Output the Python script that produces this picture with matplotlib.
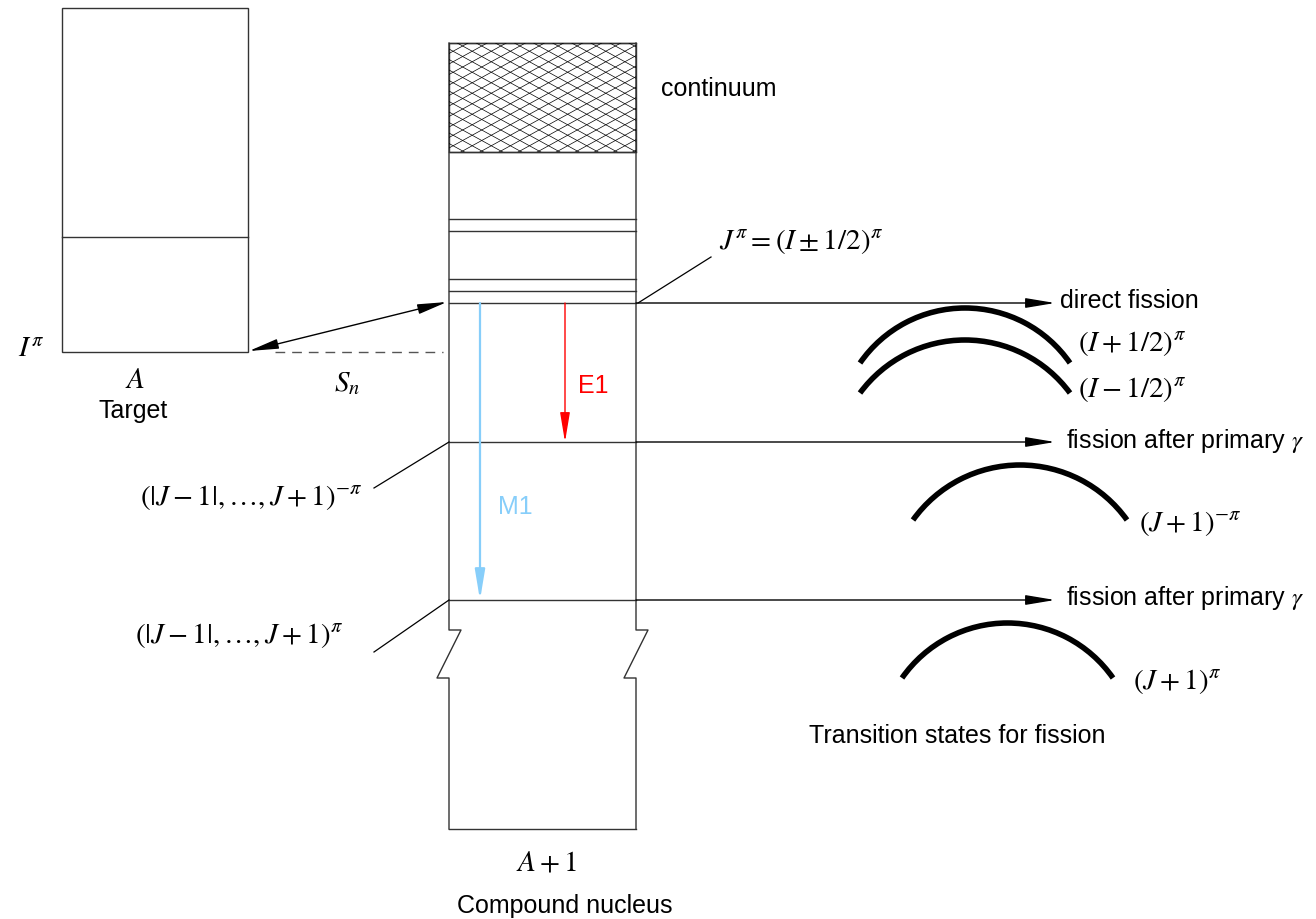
import numpy as np
import matplotlib
matplotlib.use('Agg')
from matplotlib import pyplot as plt
from matplotlib.patches import Rectangle, Arc

plt.rcParams['font.family'] = ['Liberation Sans', 'DejaVu Sans']
plt.rcParams['mathtext.fontset'] = 'stix'

# target nucleus box (pixel units, y grows downwards)
target_x = [62, 248]
target_top, target_bottom = 8, 352
target_level = 237

# compound nucleus box
cn_x = [449, 636]
cn_top, cn_bottom = 43, 829
continuum_bottom = 152
cn_lines = [219, 231, 279, 291]
capture_level = 303          # J^pi = (I +- 1/2)^pi
e1_level = 442
m1_level = 600
break_top, break_bottom = 630, 678
fission_arrow_end = 1055

# transitions
e1_x = 565
m1_x = 480

# transition state barriers: left x, right x, foot y, top y
barrier_left = [860, 860, 913, 902]
barrier_right = [1070, 1070, 1127, 1113]
barrier_foot = [363, 393, 520, 678]
barrier_top = [308, 340, 465, 623]

fig = plt.figure(figsize=(13.16, 9.19), dpi=100)
ax = fig.add_axes([0, 0, 1, 1])
ax.set_xlim(0, 1316)
ax.set_ylim(919, 0)
ax.axis('off')

lc = '#333333'
lw = 1.0

# target
ax.add_patch(Rectangle((target_x[0], target_top), target_x[1] - target_x[0],
                       target_bottom - target_top, fill=False, ec=lc, lw=lw))
ax.plot(target_x, [target_level, target_level], color=lc, lw=lw)

# compound nucleus outline with break
x0, x1 = cn_x
ax.plot([x0, x1], [cn_top, cn_top], color=lc, lw=lw)
ax.plot([x0, x0, x0 + 12, x0 - 12, x0, x0],
        [cn_top, break_top, break_top, break_bottom, break_bottom, cn_bottom], color=lc, lw=lw)
ax.plot([x1, x1, x1 + 12, x1 - 12, x1, x1],
        [cn_top, break_top, break_top, break_bottom, break_bottom, cn_bottom], color=lc, lw=lw)
ax.plot([x0, x1], [cn_bottom, cn_bottom], color=lc, lw=lw)
ax.plot([x0, x1], [continuum_bottom, continuum_bottom], color=lc, lw=lw)
for y in cn_lines:
    ax.plot([x0, x1], [y, y], color=lc, lw=lw)

# continuum hatching
rect = Rectangle((x0, cn_top), x1 - x0, continuum_bottom - cn_top, fill=False, ec=lc, lw=lw)
ax.add_patch(rect)
slope = 0.55
xs = np.array([x0, x1])
for c in np.arange(-120, 120, 10.5):
    for s in (slope, -slope):
        ln, = ax.plot(xs, cn_top + c + s * (xs - x0) + (120 if s < 0 else 0),
                      color='black', lw=0.5)
        ln.set_clip_path(rect)

# levels and fission arrows
arrow = dict(arrowstyle='-|>,head_length=1.8,head_width=0.3', mutation_scale=10,
             lw=lw, color='black', shrinkA=0, shrinkB=0)
for y in [capture_level, e1_level, m1_level]:
    ax.plot([x0, x1], [y, y], color=lc, lw=lw)
    ax.annotate('', xy=(fission_arrow_end, y), xytext=(x1, y), arrowprops=arrow)

# capture double arrow and S_n
ax.annotate('', xy=(target_x[1] + 1, target_bottom - 1), xytext=(x0 - 2, capture_level - 1),
            arrowprops=dict(arrowstyle='<|-|>,head_length=1.8,head_width=0.3',
                            mutation_scale=10, lw=lw, color='black', shrinkA=0, shrinkB=0))
ax.plot([275, x0 - 6], [target_bottom, target_bottom], color='#555555', lw=lw,
        linestyle=(0, (7, 5)))

# gamma transitions
ax.annotate('', xy=(e1_x, e1_level), xytext=(e1_x, capture_level),
            arrowprops=dict(arrowstyle='-|>,head_length=1.8,head_width=0.3', mutation_scale=10,
                            lw=1.0, color='red', shrinkA=0, shrinkB=0))
ax.annotate('', xy=(m1_x, m1_level), xytext=(m1_x, capture_level),
            arrowprops=dict(arrowstyle='-|>,head_length=1.8,head_width=0.3', mutation_scale=10,
                            lw=1.6, color='#87cefa', shrinkA=0, shrinkB=0))

# leader lines
ax.plot([x1 + 2, 711], [capture_level, 257], color='black', lw=0.9)
ax.plot([x0, 374], [e1_level, 488], color='black', lw=0.9)
ax.plot([x0, 374], [m1_level, 652], color='black', lw=0.9)

# barriers
for l, r, f, t in zip(barrier_left, barrier_right, barrier_foot, barrier_top):
    hw = (r - l) / 2
    h = f - t
    R = (hw ** 2 + h ** 2) / (2 * h)
    half = np.degrees(np.arcsin(hw / R))
    ax.add_patch(Arc(((l + r) / 2, t + R), 2 * R, 2 * R, theta1=270 - half, theta2=270 + half,
                     lw=4.0, color='black'))

# texts
fs = 18
ms = 21
ax.text(18, 349, r'$I^\pi$', fontsize=ms, va='center', ha='left')
ax.text(135, 380, r'$A$', fontsize=ms, va='center', ha='center')
ax.text(133, 411, 'Target', fontsize=fs, va='center', ha='center')
ax.text(347, 383, r'$S_n$', fontsize=ms, va='center', ha='center')
ax.text(661, 89, 'continuum', fontsize=fs, va='center', ha='left')
ax.text(719, 242, r'$J^\pi = (I \pm 1/2)^\pi$', fontsize=ms, va='center', ha='left')
ax.text(1060, 301, 'direct fission', fontsize=fs, va='center', ha='left')
ax.text(1078, 343, r'$(I+1/2)^\pi$', fontsize=ms, va='center', ha='left')
ax.text(1078, 390, r'$(I-1/2)^\pi$', fontsize=ms, va='center', ha='left')
ax.text(578, 386, 'E1', fontsize=fs, va='center', ha='left', color='red')
ax.text(498, 507, 'M1', fontsize=fs, va='center', ha='left', color='#87cefa')
ax.text(1066, 441, r'fission after primary $\gamma$', fontsize=fs, va='center', ha='left')
ax.text(1066, 598, r'fission after primary $\gamma$', fontsize=fs, va='center', ha='left')
ax.text(140, 498, r'$(|J-1|,\ldots,J+1)^{-\pi}$', fontsize=ms, va='center', ha='left')
ax.text(135, 636, r'$(|J-1|,\ldots,J+1)^{\pi}$', fontsize=ms, va='center', ha='left')
ax.text(1139, 524, r'$(J+1)^{-\pi}$', fontsize=ms, va='center', ha='left')
ax.text(1133, 682, r'$(J+1)^{\pi}$', fontsize=ms, va='center', ha='left')
ax.text(957, 736, 'Transition states for fission', fontsize=fs, va='center', ha='center')
ax.text(547, 862, r'$A+1$', fontsize=ms, va='center', ha='center')
ax.text(565, 906, 'Compound nucleus', fontsize=fs, va='center', ha='center')

plt.savefig('out.png', dpi=100)
